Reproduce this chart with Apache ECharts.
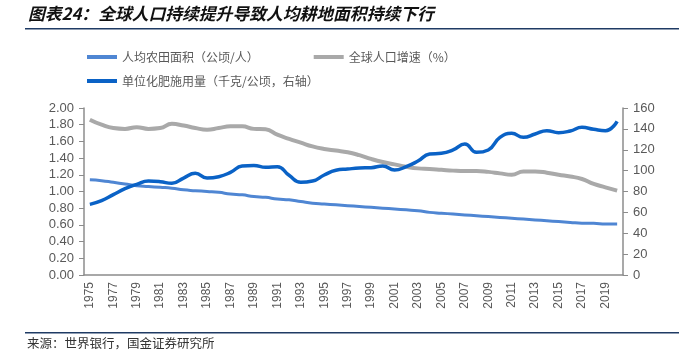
<!DOCTYPE html>
<html>
<head>
<meta charset="utf-8">
<script src="https://cdn.jsdelivr.net/npm/echarts@6/dist/echarts.min.js"></script>
<style>
  html, body { margin: 0; padding: 0; background: #fff; }
  #chart { width: 679px; height: 351px; }
</style>
</head>
<body>
<div id="chart"></div>
<script>
// 年份 1975-2020
var years = [];
for (var y = 1975; y <= 2020; y++) { years.push(String(y)); }

// 人均农田面积（公顷/人）- 左轴
var areaPerCapita = [1.14, 1.13, 1.11, 1.09, 1.07, 1.06, 1.05, 1.04, 1.02, 1.01,
                     1.00, 0.99, 0.97, 0.96, 0.94, 0.93, 0.91, 0.90, 0.88, 0.86,
                     0.85, 0.84, 0.83, 0.82, 0.81, 0.80, 0.79, 0.78, 0.77, 0.75,
                     0.74, 0.73, 0.72, 0.71, 0.70, 0.69, 0.68, 0.67, 0.66, 0.65,
                     0.64, 0.63, 0.62, 0.62, 0.61, 0.61];

// 全球人口增速（%）- 左轴
var popGrowth = [1.86, 1.80, 1.76, 1.75, 1.77, 1.75, 1.76, 1.81, 1.79, 1.76,
                 1.74, 1.76, 1.78, 1.78, 1.75, 1.745, 1.68, 1.63, 1.585, 1.54,
                 1.51, 1.49, 1.47, 1.435, 1.39, 1.353, 1.325, 1.297, 1.277, 1.27,
                 1.26, 1.25, 1.245, 1.245, 1.235, 1.217, 1.20, 1.24, 1.24, 1.225,
                 1.20, 1.18, 1.15, 1.09, 1.05, 1.01];

// 单位化肥施用量（千克/公顷，右轴）
var fertilizer = [67.7, 71.2, 77, 82.7, 86.9, 90, 89.4, 87.8, 92.9, 97.4,
                  92.9, 94.2, 98.3, 104.4, 105, 103.2, 103.8, 95.5, 88.8, 90,
                  95.8, 100.3, 101.5, 102.5, 102.8, 104.4, 100.6, 103.8, 109.2, 115.9,
                  116.6, 119.8, 125.5, 117.5, 119.8, 131.9, 135.7, 131.9, 135.1, 138.3,
                  136.4, 138, 141.5, 139.6, 138.3, 147.2];

var names = ['人均农田面积（公顷/人）', '全球人口增速（%）', '单位化肥施用量（千克/公顷，右轴）'];

var chart = echarts.init(document.getElementById('chart'));
var axisColor = '#8c8c8c';
var labelColor = '#595959';
var cjk = '"Noto Sans CJK SC", sans-serif';

chart.setOption({
    animation: false,
    backgroundColor: '#fff',
    graphic: [
        { type: 'text', left: 28, top: 5,
          style: { text: '图表24：全球人口持续提升导致人均耕地面积持续下行', fill: '#111',
                   font: 'italic bold 16.8px ' + cjk } },
        { type: 'rect', shape: { x: 25, y: 28, width: 654, height: 1.5 },
          style: { fill: '#1f3b64' } },
        { type: 'rect', shape: { x: 25, y: 332, width: 654, height: 1.5 },
          style: { fill: '#1f3b64' } },
        { type: 'text', left: 27, top: 337,
          style: { text: '来源：世界银行，国金证券研究所', fill: '#333', font: '12.5px ' + cjk } }
    ],
    legend: [
        { left: 82, top: 46, itemWidth: 30, itemHeight: 4, itemGap: 55, icon: 'rect',
          textStyle: { color: labelColor, fontSize: 12, fontFamily: cjk },
          data: [names[0], names[1]] },
        { left: 82, top: 70, itemWidth: 30, itemHeight: 4, icon: 'rect',
          textStyle: { color: labelColor, fontSize: 12, fontFamily: cjk },
          data: [names[2]] }
    ],
    grid: { left: 84, right: 56, top: 108, bottom: 76 },
    xAxis: {
        type: 'category',
        data: years,
        boundaryGap: true,
        axisLine: { lineStyle: { color: axisColor, width: 1.5 } },
        axisTick: { interval: 1, length: 5, lineStyle: { color: axisColor } },
        axisLabel: { interval: 1, rotate: 90, color: labelColor, fontSize: 12,
                     fontFamily: 'Arial, "Liberation Sans"', margin: 7 }
    },
    yAxis: [
        { type: 'value', min: 0, max: 2, interval: 0.2,
          splitLine: { show: false },
          axisLine: { show: true, lineStyle: { color: axisColor, width: 1.5 } },
          axisTick: { show: true, length: 5, lineStyle: { color: axisColor } },
          axisLabel: { color: labelColor, fontSize: 13, fontFamily: 'Arial, "Liberation Sans"',
                       margin: 10, formatter: function (v) { return v.toFixed(2); } } },
        { type: 'value', min: 0, max: 160, interval: 20,
          splitLine: { show: false },
          axisLine: { show: true, lineStyle: { color: axisColor, width: 1.5 } },
          axisTick: { show: true, length: 5, lineStyle: { color: axisColor } },
          axisLabel: { color: labelColor, fontSize: 13, fontFamily: 'Arial, "Liberation Sans"',
                       margin: 10 } }
    ],
    series: [
        { name: names[0], type: 'line', yAxisIndex: 0, data: areaPerCapita,
          smooth: true, symbol: 'none', color: '#4f86d3',
          lineStyle: { width: 3, color: '#4f86d3' } },
        { name: names[1], type: 'line', yAxisIndex: 0, data: popGrowth,
          smooth: true, symbol: 'none', color: '#a9a9a9',
          lineStyle: { width: 4, color: '#a9a9a9' } },
        { name: names[2], type: 'line', yAxisIndex: 1, data: fertilizer,
          smooth: true, symbol: 'none', color: '#0a62c6',
          lineStyle: { width: 3.5, color: '#0a62c6' } }
    ]
});
</script>
</body>
</html>
